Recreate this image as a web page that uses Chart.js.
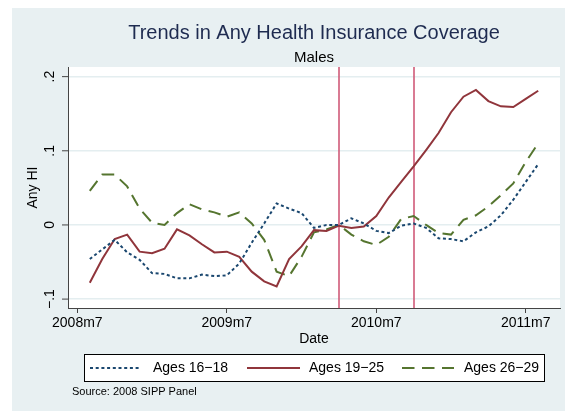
<!DOCTYPE html>
<html>
<head>
<meta charset="utf-8">
<script src="https://cdn.jsdelivr.net/npm/chart.js@4.4.1/dist/chart.umd.min.js"></script>
<style>
  html, body { margin: 0; padding: 0; background: #fff; }
  #wrap { width: 565px; height: 413px; }
</style>
</head>
<body>
<div id="wrap"><canvas id="hi-chart" width="565" height="413"></canvas></div>
<script>
/* =========================
   Data
========================= */
const months = [
  "2008m8", "2008m9", "2008m10", "2008m11", "2008m12",
  "2009m1", "2009m2", "2009m3", "2009m4", "2009m5", "2009m6", "2009m7",
  "2009m8", "2009m9", "2009m10", "2009m11", "2009m12",
  "2010m1", "2010m2", "2010m3", "2010m4", "2010m5", "2010m6", "2010m7",
  "2010m8", "2010m9", "2010m10", "2010m11", "2010m12",
  "2011m1", "2011m2", "2011m3", "2011m4", "2011m5", "2011m6", "2011m7", "2011m8"
];

const ages1618 = [
  -0.046, -0.033, -0.020, -0.037, -0.047,
  -0.065, -0.066, -0.072, -0.072, -0.067, -0.069, -0.068,
  -0.052, -0.024, 0.002, 0.029, 0.022,
  0.016, -0.004, 0.000, 0.000, 0.009, 0.002, -0.008,
  -0.011, -0.001, 0.002, -0.004, -0.018,
  -0.019, -0.022, -0.010, -0.002, 0.013, 0.034, 0.058, 0.082
];

const ages1925 = [
  -0.078, -0.046, -0.019, -0.013, -0.036,
  -0.038, -0.032, -0.006, -0.014, -0.026, -0.037, -0.036,
  -0.043, -0.063, -0.076, -0.083, -0.046,
  -0.029, -0.007, -0.008, -0.001, -0.004, -0.002, 0.012,
  0.037, 0.058, 0.079, 0.101, 0.124,
  0.152, 0.173, 0.182, 0.167, 0.160, 0.159, 0.170, 0.181
];

const ages2629 = [
  0.046, 0.068, 0.068, 0.052, 0.022,
  0.003, 0.000, 0.016, 0.028, 0.021, 0.017, 0.011,
  0.017, 0.002, -0.020, -0.063, -0.069,
  -0.043, -0.010, -0.006, 0.000, -0.013, -0.022, -0.027,
  -0.016, 0.008, 0.012, 0.000, -0.011,
  -0.013, 0.007, 0.013, 0.025, 0.040, 0.056, 0.085, 0.110
];

const seriesLabels = ["Ages 16\u221218", "Ages 19\u221225", "Ages 26\u221229"];
const xTickLabels = ["2008m7", "2009m7", "2010m7", "2011m7"];
const yTickValues = [-0.1, 0, 0.1, 0.2];
const yTickLabels = ["\u2212.1", "0", ".1", ".2"];
const markerMonths = ["2010m4", "2010m10"];

/* =========================
   Helpers
========================= */
const FONT = "'Liberation Sans', Arial, Helvetica, sans-serif";

// "2009m3" -> months since 2008m7
function monthIndex(label) {
  const [y, m] = label.split("m").map(Number);
  return (y - 2008) * 12 + (m - 7);
}

function toPoints(values) {
  return values.map((v, i) => ({ x: monthIndex(months[i]), y: v }));
}

function textAt(ctx, str, x, y, size, color, align, angle) {
  ctx.save();
  ctx.font = `${size}px ${FONT}`;
  ctx.fillStyle = color;
  ctx.textAlign = align || "center";
  ctx.textBaseline = "middle";
  ctx.translate(x, y);
  if (angle) ctx.rotate(angle);
  ctx.fillText(str, 0, 0);
  ctx.restore();
}

/* =========================
   Plugins
========================= */
const backgroundPlugin = {
  id: "stataBackground",
  beforeDraw(chart) {
    const { ctx, chartArea: a } = chart;
    ctx.save();
    ctx.fillStyle = "#ffffff";
    ctx.fillRect(0, 0, chart.width, chart.height);
    ctx.fillStyle = "#e8f0f2";
    ctx.fillRect(12, 8, chart.width - 12, 403);
    ctx.fillStyle = "#ffffff";
    ctx.fillRect(a.left, a.top, a.right - a.left, a.bottom - a.top);
    ctx.restore();
  }
};

const markerLinesPlugin = {
  id: "markerLines",
  beforeDatasetsDraw(chart) {
    const { ctx, chartArea: a, scales } = chart;
    ctx.save();
    ctx.strokeStyle = "#d05a78";
    ctx.lineWidth = 1.6;
    markerMonths.forEach(m => {
      const px = Math.round(scales.x.getPixelForValue(monthIndex(m)));
      ctx.beginPath();
      ctx.moveTo(px, a.top);
      ctx.lineTo(px, a.bottom);
      ctx.stroke();
    });
    ctx.restore();
  }
};

const labelsPlugin = {
  id: "stataLabels",
  afterDraw(chart) {
    const { ctx, chartArea: a, scales } = chart;
    const midX = (a.left + a.right) / 2;

    // titles
    textAt(ctx, "Trends in Any Health Insurance Coverage", midX, 33, 20, "#1e2b50");
    textAt(ctx, "Males", midX, 58, 15, "#000");

    // y ticks, rotated labels and axis title
    ctx.save();
    ctx.strokeStyle = "#444";
    ctx.lineWidth = 1;
    yTickValues.forEach((v, i) => {
      const py = scales.y.getPixelForValue(v);
      ctx.beginPath();
      ctx.moveTo(a.left - 6, py);
      ctx.lineTo(a.left, py);
      ctx.stroke();
      textAt(ctx, yTickLabels[i], 50, py, 14, "#000", "center", -Math.PI / 2);
    });
    ctx.restore();
    textAt(ctx, "Any HI", 33, (a.top + a.bottom) / 2, 14, "#000", "center", -Math.PI / 2);

    // x axis title
    textAt(ctx, "Date", midX, 339, 14, "#000");

    // legend
    const box = { x: 84.5, y: 354.5, w: 460, h: 27 };
    ctx.save();
    ctx.fillStyle = "#fff";
    ctx.fillRect(box.x, box.y, box.w, box.h);
    ctx.strokeStyle = "#000";
    ctx.lineWidth = 1;
    ctx.strokeRect(box.x, box.y, box.w, box.h);
    ctx.restore();

    const entries = [
      { x0: 90, x1: 139, tx: 153 },
      { x0: 247, x1: 300, tx: 309 },
      { x0: 402, x1: 454, tx: 464 }
    ];
    const cy = box.y + box.h / 2;
    chart.data.datasets.forEach((ds, i) => {
      const e = entries[i];
      ctx.save();
      ctx.strokeStyle = ds.borderColor;
      ctx.lineWidth = ds.borderWidth;
      ctx.setLineDash(ds.borderDash || []);
      ctx.beginPath();
      ctx.moveTo(e.x0, cy);
      ctx.lineTo(e.x1, cy);
      ctx.stroke();
      ctx.restore();
      textAt(ctx, ds.label, e.tx, cy, 14, "#000", "left");
    });

    // note
    textAt(ctx, "Source: 2008 SIPP Panel", 72, 392, 11, "#000", "left");
  }
};

/* =========================
   Chart
========================= */
const ctx = document.getElementById("hi-chart");

new Chart(ctx, {
  type: "line",
  data: {
    datasets: [
      {
        label: seriesLabels[0],
        data: toPoints(ages1618),
        borderColor: "#1a476f",
        borderWidth: 2,
        borderDash: [3, 2.7]
      },
      {
        label: seriesLabels[1],
        data: toPoints(ages1925),
        borderColor: "#90353b",
        borderWidth: 2
      },
      {
        label: seriesLabels[2],
        data: toPoints(ages2629),
        borderColor: "#55752f",
        borderWidth: 2,
        borderDash: [12.5, 7.5]
      }
    ]
  },
  options: {
    responsive: false,
    animation: false,
    devicePixelRatio: 1,
    layout: { padding: { top: 67, right: 5, bottom: 75, left: 0 } },
    elements: {
      point: { radius: 0 },
      line: { tension: 0, fill: false }
    },
    plugins: {
      legend: { display: false },
      title: { display: false },
      tooltip: { enabled: false }
    },
    scales: {
      x: {
        type: "linear",
        min: -0.75,
        max: 38.75,
        afterBuildTicks: s => { s.ticks = [0, 12, 24, 36].map(v => ({ value: v })); },
        afterFit: s => { s.height = 30; },
        ticks: {
          autoSkip: false,
          maxRotation: 0,
          padding: 2,
          color: "#000",
          font: { family: FONT, size: 14 },
          callback: (v, i) => xTickLabels[i]
        },
        grid: {
          drawOnChartArea: false,
          drawTicks: true,
          tickLength: 5,
          tickColor: "#444"
        },
        border: { color: "#444", width: 1 }
      },
      y: {
        min: -0.112,
        max: 0.213,
        afterBuildTicks: s => { s.ticks = yTickValues.map(v => ({ value: v })); },
        afterFit: s => { s.width = 68; },
        ticks: { display: false },
        grid: {
          color: "#e4eef0",
          lineWidth: 1.4,
          drawTicks: false
        },
        border: { color: "#444", width: 1 }
      }
    }
  },
  plugins: [backgroundPlugin, markerLinesPlugin, labelsPlugin]
});
</script>
</body>
</html>
